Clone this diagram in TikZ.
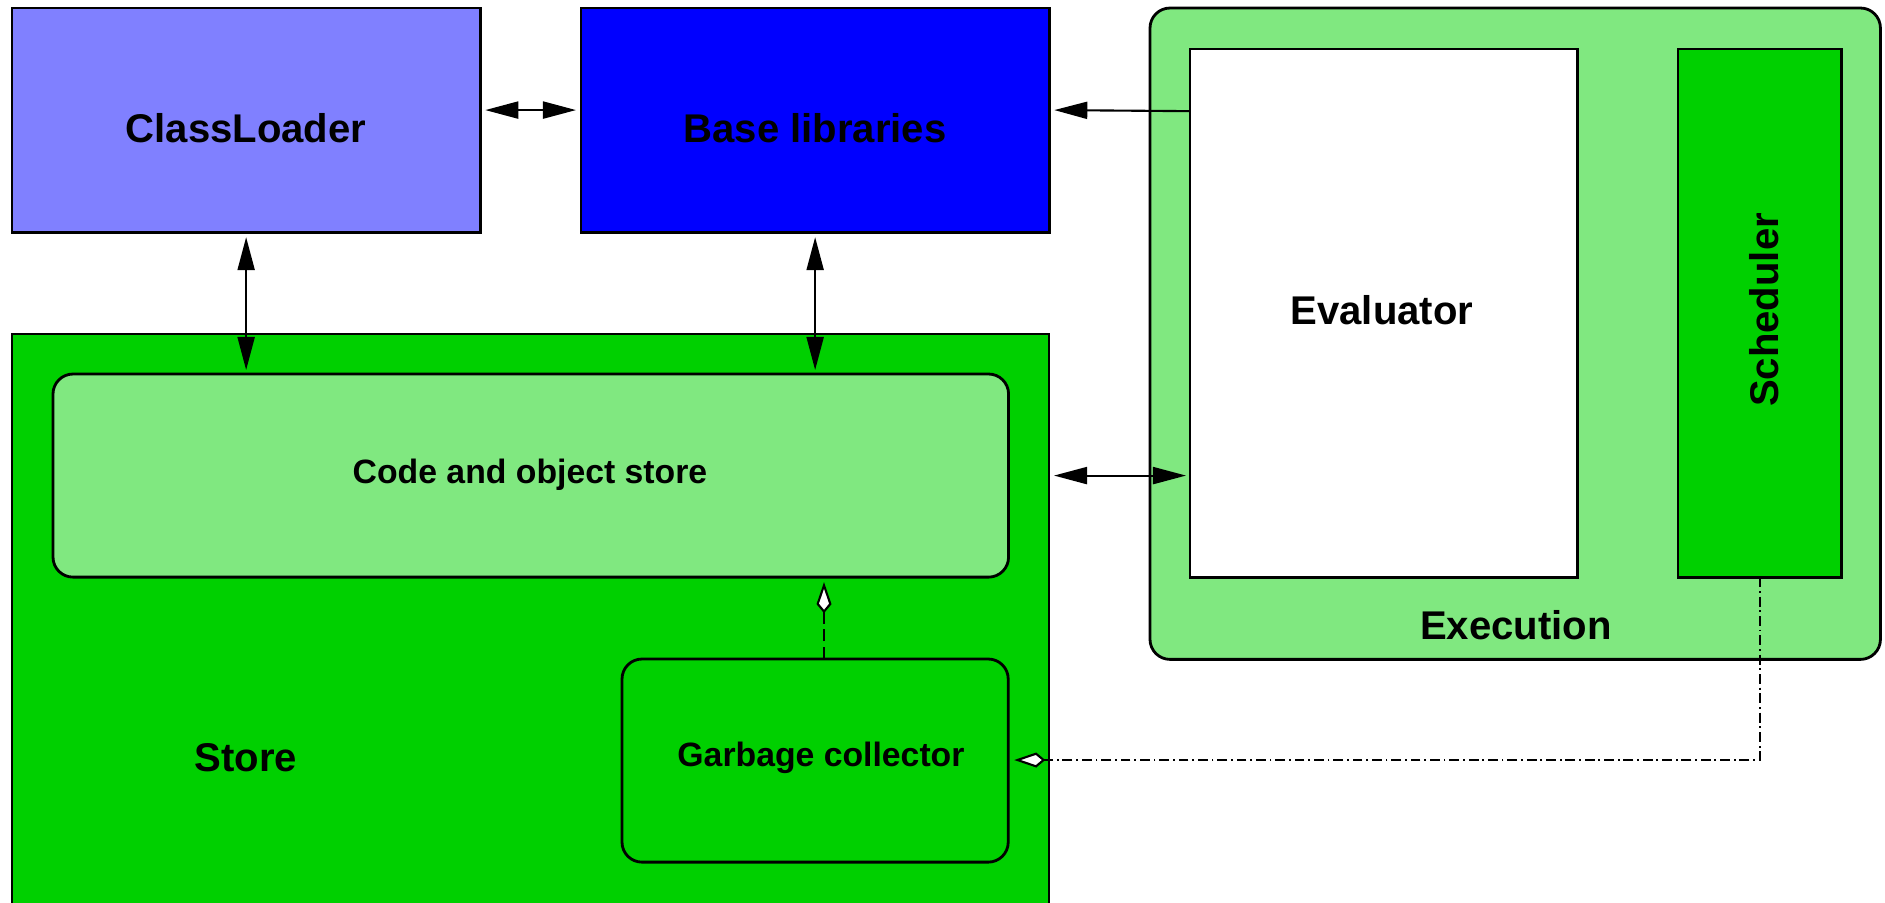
\documentclass[tikz,border=0pt]{standalone}
\usepackage{fontspec}
\setmainfont{Liberation Sans}
\usetikzlibrary{arrows.meta,calc}
\definecolor{lightblue}{RGB}{128,128,255}
\definecolor{lgreen}{RGB}{128,232,128}
\definecolor{dgreen}{RGB}{0,208,0}
\begin{document}
\begin{tikzpicture}[x=0.01cm,y=-0.01cm,
  boxline/.style={draw=black, line width=0.8pt},
  sq/.style={boxline, anchor=north west, inner sep=0pt, outer sep=0pt},
  rnd/.style={sq, rounded corners=0.2cm},
  big/.style={font=\fontsize{11.4}{13}\selectfont\bfseries},
  small/.style={font=\fontsize{9.6}{11}\selectfont\bfseries},
  tipb/.tip={Triangle[length=0.33cm,width=0.17cm]},
  tipk/.tip={Kite[length=0.31cm,width=0.15cm,inset=0.09cm,fill=white]},
  both/.style={line width=0.6pt, tipb-tipb},
  one/.style={line width=0.6pt, -tipb},
  gcdash/.style={line width=0.6pt, -tipk, dash pattern=on 3.4pt off 1.6pt},
  gcdashdot/.style={line width=0.6pt, -tipk, dash pattern=on 2.8pt off 1.1pt on 0.5pt off 1.1pt},
]
\useasboundingbox (0,0) rectangle (1885,902);

% Top boxes
\node[sq, fill=lightblue, minimum width=4.68cm, minimum height=2.24cm] (cl) at (12,8) {};
\node[sq, fill=blue, minimum width=4.68cm, minimum height=2.24cm] (bl) at (581,8) {};
\node[big] (cltext) at (246,128) {ClassLoader};
\node[big] (bltext) at (815,128) {Base libraries};

% Execution
\node[rnd, fill=lgreen, minimum width=7.30cm, minimum height=6.51cm] (ex) at (1150,8) {};
\node[sq, fill=white, minimum width=3.87cm, minimum height=5.28cm] (ev) at (1190,49) {};
\node[sq, fill=dgreen, minimum width=1.63cm, minimum height=5.28cm] (sc) at (1678,49) {};
\node[big] (evtext) at (1382,310) {Evaluator};
\node[big, rotate=90] (sctext) at (1764,310) {Scheduler};
\node[big] (extext) at (1516,625) {Execution};

% Store
\fill[dgreen] (12,334) rectangle (1049,905);
\draw[line width=0.8pt] (12,905) -- (12,334) -- (1049,334) -- (1049,905);
\coordinate (stne) at (1049,334);
\node[rnd, fill=lgreen, minimum width=9.55cm, minimum height=2.03cm] (cs) at (53,374) {};
\node[rnd, fill=dgreen, minimum width=3.86cm, minimum height=2.03cm] (gc) at (622,659) {};
\node[small] (cstext) at (530,475) {Code and object store};
\node[big] (sttext) at (246,758) {Store};
\node[small] (gctext) at (821,758) {Garbage collector};

% Connectors
\draw[both] ($(cl.east)+(5,-10)$) -- ($(bl.west)+(-5,-10)$);
\draw[both] ($(cl.south)+(0,5)$) -- ($(cl.south |- cs.north)+(0,-4)$);
\draw[both] ($(bl.south)+(0,5)$) -- ($(bl.south |- cs.north)+(0,-4)$);
\draw[both] ($(cs.east -| stne)+(5,0)$) -- ($(cs.east -| ev.west)+(-4,0)$);
\draw[one] ($(ev.west)+(0,-202)$) -- ($(bl.east)+(5,-10)$);
\draw[gcdash] ($(gc.north west)+(202,0)$) -- ($(cs.south west)+(771,5)$);
\coordinate (bend) at (1760,760);
\draw[gcdashdot] (sc.south -| bend) -- (bend) -- ($(gc.east |- bend)+(6,0)$);
\end{tikzpicture}
\end{document}
